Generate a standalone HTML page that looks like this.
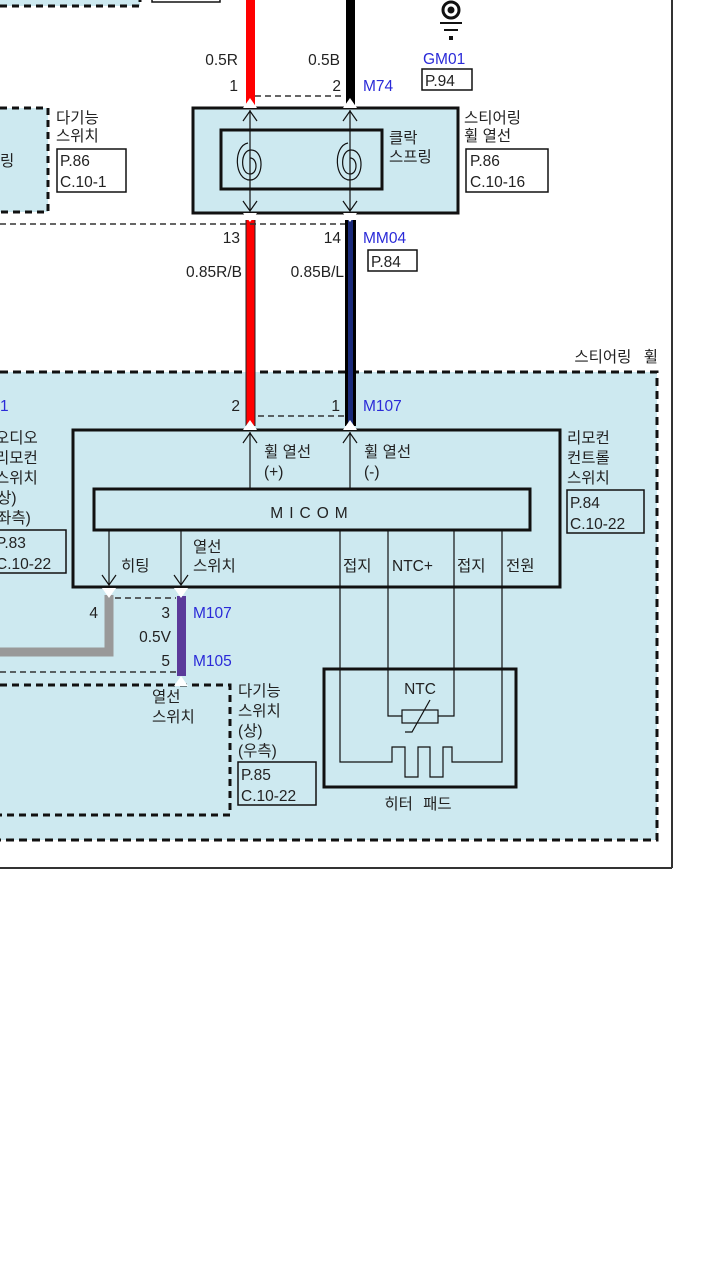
<!DOCTYPE html>
<html><head><meta charset="utf-8"><style>
html,body{margin:0;padding:0;background:#fff;width:720px;height:1280px;overflow:hidden}
svg text{font-family:"Liberation Sans","Noto Sans CJK KR",sans-serif;font-size:15.5px;fill:#222}
.b{fill:#2a2ad8}
</style></head><body>
<svg width="720" height="1280" viewBox="0 0 720 1280" xmlns="http://www.w3.org/2000/svg">
<!-- frame -->
<line x1="672" y1="0" x2="672" y2="868" stroke="#333" stroke-width="2"/>
<line x1="0" y1="868" x2="672" y2="868" stroke="#333" stroke-width="2"/>
<rect x="-5" y="-10" width="145" height="16" fill="#cde9f0"/>
<path d="M0,6 H140 V-5" fill="none" stroke="#111" stroke-width="3" stroke-dasharray="7,5"/>
<rect x="152" y="-10" width="68" height="12" fill="none" stroke="#111" stroke-width="1.5"/>

<rect x="-5" y="372" width="662" height="468" fill="#cde9f0"/>
<path d="M0,372 H657 V840 H0" fill="none" stroke="#111" stroke-width="3" stroke-dasharray="8,5"/>
<text x="658" y="362" text-anchor="end" style="word-spacing:8px">스티어링 휠</text>

<rect x="-5" y="108" width="53" height="104" fill="#cde9f0"/>
<path d="M0,108 H48 V212 H0" fill="none" stroke="#111" stroke-width="3" stroke-dasharray="7,5"/>
<text x="0" y="166">링</text>
<text x="56" y="123">다기능</text><text x="56" y="141">스위치</text>
<rect x="57" y="149" width="69" height="43" fill="none" stroke="#111" stroke-width="1.5"/>
<text x="60" y="166">P.86</text><text x="60" y="187">C.10-1</text>

<rect x="246" y="0" width="9" height="105" fill="#f00"/>
<rect x="346" y="0" width="9" height="105" fill="#000"/>
<rect x="246" y="220" width="9" height="206" fill="#f00"/>
<line x1="246" y1="220" x2="246" y2="426" stroke="#222" stroke-width="1"/>
<line x1="255" y1="220" x2="255" y2="426" stroke="#222" stroke-width="1"/>
<rect x="345" y="220" width="11" height="206" fill="#000"/>
<rect x="348" y="220" width="5" height="206" fill="#1a2a7a"/>

<circle cx="451" cy="10" r="8" fill="none" stroke="#111" stroke-width="3"/>
<circle cx="451" cy="10" r="3.5" fill="#111"/>
<line x1="440" y1="23" x2="462" y2="23" stroke="#111" stroke-width="2"/>
<line x1="444" y1="30" x2="458" y2="30" stroke="#111" stroke-width="2"/>
<rect x="449" y="36" width="4" height="4" fill="#111"/>
<text x="423" y="64" class="b">GM01</text>
<rect x="422" y="69" width="50" height="21" fill="none" stroke="#111" stroke-width="1.5"/>
<text x="425" y="86">P.94</text>

<text x="238" y="65" text-anchor="end">0.5R</text>
<text x="340" y="65" text-anchor="end">0.5B</text>
<text x="238" y="91" text-anchor="end">1</text>
<text x="341" y="91" text-anchor="end">2</text>
<text x="363" y="91" class="b">M74</text>
<line x1="255" y1="96" x2="345" y2="96" stroke="#333" stroke-width="1.5" stroke-dasharray="6,4"/>

<rect x="193" y="108" width="265" height="105" fill="#cde9f0" stroke="#111" stroke-width="3"/>
<rect x="221" y="130" width="161" height="59" fill="none" stroke="#111" stroke-width="3"/>
<g fill="none" stroke="#111" stroke-width="1.2">
<line x1="250" y1="110" x2="250" y2="211"/>
<line x1="350" y1="110" x2="350" y2="211"/>
<path d="M243,121 L250,111 L257,121 M343,121 L350,111 L357,121 M243,201 L250,211 L257,201 M343,201 L350,211 L357,201"/>
<path d="M248,143 C233,146 234,180 250,180 C264,180 265,150 251,150 C240,150 240,174 250,174 C258,174 258,158 250,158"/>
<path d="M348,143 C333,146 334,180 350,180 C364,180 365,150 351,150 C340,150 340,174 350,174 C358,174 358,158 350,158"/>
</g>
<path d="M243,108 L250,98 L257,108Z M343,108 L350,98 L357,108Z" fill="#fff"/>
<path d="M243,213 L250,222 L257,213Z M343,213 L350,222 L357,213Z" fill="#fff"/>
<text x="389" y="143">클락</text><text x="389" y="162">스프링</text>
<text x="464" y="123">스티어링</text><text x="464" y="141">휠 열선</text>
<rect x="466" y="149" width="82" height="43" fill="none" stroke="#111" stroke-width="1.5"/>
<text x="470" y="166">P.86</text><text x="470" y="187">C.10-16</text>
<line x1="0" y1="224" x2="345" y2="224" stroke="#333" stroke-width="1.5" stroke-dasharray="6,4"/>

<text x="240" y="243" text-anchor="end">13</text>
<text x="341" y="243" text-anchor="end">14</text>
<text x="363" y="243" class="b">MM04</text>
<rect x="368" y="250" width="49" height="21" fill="none" stroke="#111" stroke-width="1.5"/>
<text x="371" y="267">P.84</text>
<text x="242" y="277" text-anchor="end">0.85R/B</text>
<text x="344" y="277" text-anchor="end">0.85B/L</text>

<text x="0" y="411" class="b">1</text>
<text x="240" y="411" text-anchor="end">2</text>
<text x="340" y="411" text-anchor="end">1</text>
<text x="363" y="411" class="b">M107</text>
<line x1="258" y1="416" x2="345" y2="416" stroke="#333" stroke-width="1.5" stroke-dasharray="6,4"/>

<rect x="73" y="430" width="487" height="157" fill="none" stroke="#111" stroke-width="3"/>
<g stroke="#111" stroke-width="1.2" fill="none">
<line x1="250" y1="432" x2="250" y2="489"/>
<line x1="350" y1="432" x2="350" y2="489"/>
<path d="M243,443 L250,433 L257,443 M343,443 L350,433 L357,443"/>
<line x1="109" y1="530" x2="109" y2="585"/>
<line x1="181" y1="530" x2="181" y2="585"/>
<path d="M102,575 L109,585 L116,575 M174,575 L181,585 L188,575"/>
<path d="M340,530 V762 H392 V747 H405 V777 H418 V747 H430 V777 H443 V747 H452 V762 H502 V530"/>
<path d="M388,530 V716 H402 M438,716 H454 V530"/>
<rect x="402" y="710" width="36" height="13"/>
<path d="M405,732 H412 L430,700"/>
</g>
<path d="M243,430 L250,420 L257,430Z M343,430 L350,420 L357,430Z" fill="#fff"/>
<text x="264" y="457">휠 열선</text><text x="264" y="477">(+)</text>
<text x="364" y="457">휠 열선</text><text x="364" y="477">(-)</text>
<rect x="94" y="489" width="436" height="41" fill="none" stroke="#111" stroke-width="3"/>
<text x="312" y="518" text-anchor="middle" style="letter-spacing:6px">MICOM</text>
<text x="121" y="571">히팅</text>
<text x="193" y="552">열선</text><text x="193" y="571">스위치</text>
<text x="343" y="571">접지</text>
<text x="392" y="571">NTC+</text>
<text x="457" y="571">접지</text>
<text x="506" y="571">전원</text>
<text x="567" y="443">리모컨</text><text x="567" y="463">컨트롤</text><text x="567" y="483">스위치</text>
<rect x="567" y="490" width="77" height="43" fill="none" stroke="#111" stroke-width="1.5"/>
<text x="570" y="508">P.84</text><text x="570" y="529">C.10-22</text>

<text x="-5" y="443">오디오</text><text x="-5" y="463">리모컨</text><text x="-5" y="483">스위치</text>
<text x="-8" y="503">(상)</text><text x="-8" y="523">(좌측)</text>
<rect x="-5" y="530" width="71" height="43" fill="none" stroke="#111" stroke-width="1.5"/>
<text x="-4" y="548">P.83</text><text x="-4" y="569">C.10-22</text>

<path d="M109,595 V652 H-5" fill="none" stroke="#999" stroke-width="9"/>
<rect x="177" y="596" width="9" height="80" fill="#5b3a9a"/>
<path d="M102,588 L109,598 L116,588Z M174,588 L181,598 L188,588Z" fill="#fff"/>
<line x1="115" y1="598" x2="176" y2="598" stroke="#333" stroke-width="1.5" stroke-dasharray="6,4"/>
<line x1="0" y1="672" x2="176" y2="672" stroke="#333" stroke-width="1.5" stroke-dasharray="6,4"/>
<text x="98" y="618" text-anchor="end">4</text>
<text x="170" y="618" text-anchor="end">3</text>
<text x="193" y="618" class="b">M107</text>
<text x="171" y="642" text-anchor="end">0.5V</text>
<text x="170" y="666" text-anchor="end">5</text>
<text x="193" y="666" class="b">M105</text>

<path d="M0,685 H230 V815 H0" fill="none" stroke="#111" stroke-width="3" stroke-dasharray="7,5"/>
<path d="M174,686 L181,676 L188,686Z" fill="#fff"/>
<text x="152" y="702">열선</text><text x="152" y="722">스위치</text>
<text x="238" y="696">다기능</text><text x="238" y="716">스위치</text>
<text x="238" y="736">(상)</text><text x="238" y="756">(우측)</text>
<rect x="238" y="762" width="78" height="43" fill="none" stroke="#111" stroke-width="1.5"/>
<text x="241" y="780">P.85</text><text x="241" y="801">C.10-22</text>

<rect x="324" y="669" width="192" height="118" fill="none" stroke="#111" stroke-width="3"/>
<text x="420" y="694" text-anchor="middle">NTC</text>
<text x="418" y="809" text-anchor="middle" style="word-spacing:6px">히터 패드</text>
</svg>
</body></html>
